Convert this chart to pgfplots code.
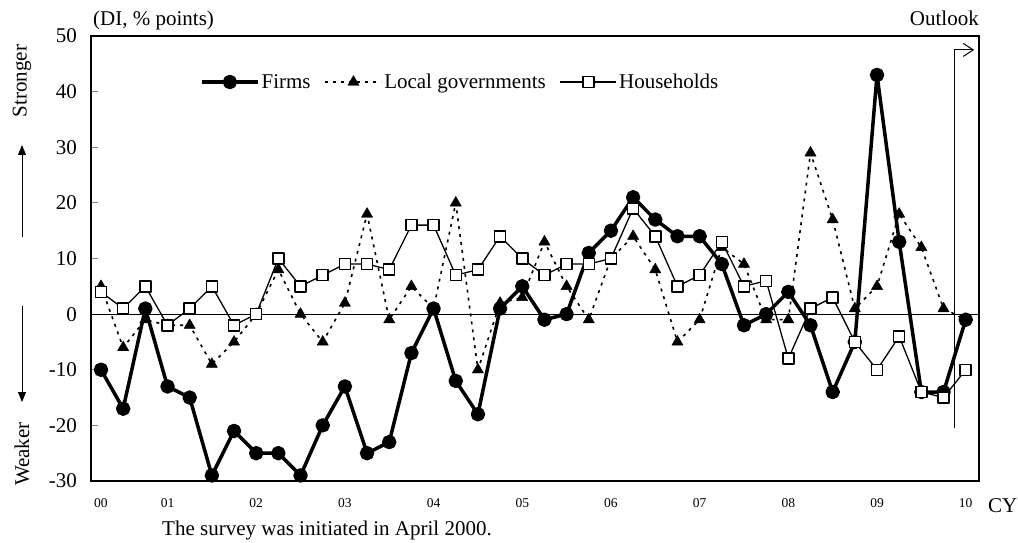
\documentclass[border=0pt]{standalone}
\usepackage{fontspec}
\setmainfont{Liberation Serif}
\usepackage{pgfplots}
\usepackage{pgfplotstable}
\pgfplotsset{compat=1.18}
\usetikzlibrary{arrows.meta}

\newcommand\bigf{\fontsize{21}{25}\selectfont}

% quarter index: 0 = 2000 Q2 (survey start), 39 = 2010 Q1
\pgfplotstableread{
i  firms local house
0  -10   5    4
1  -17  -6    1
2    1  -1    5
3  -13  -2   -2
4  -15  -2    1
5  -29  -9    5
6  -21  -5   -2
7  -25   0    0
8  -25   8   10
9  -29   0    5
10 -20  -5    7
11 -13   2    9
12 -25  18    9
13 -23  -1    8
14  -7   5   16
15   1   1   16
16 -12  20    7
17 -18 -10    8
18   1   2   14
19   5   3   10
20  -1  13    7
21   0   5    9
22  11  -1    9
23  15  10   10
24  21  14   19
25  17   8   14
26  14  -5    5
27  14  -1    7
28   9  12   13
29  -2   9    5
30   0  -1    6
31   4  -1   -8
32  -2  29    1
33 -14  17    3
34  -5   1   -5
35  43   5  -10
36  13  18   -4
37 -14  12  -14
38 -14   1  -15
39  -1  -1  -10
}\ditable

\pgfplotsset{
  firms/.style={black, line width=3.5pt, line join=round, mark=*, mark size=5.5pt, mark options={solid}},
  local/.style={black, line width=1.6pt, line join=round, dash pattern=on 3pt off 5pt, mark=triangle*, mark size=6.5pt, mark options={solid, line width=0.4pt}},
  house/.style={black, line width=1.3pt, line join=round, mark=square*, mark size=5.5pt, mark options={solid, fill=white, line width=1.5pt}},
}

\begin{document}
\begin{tikzpicture}
\useasboundingbox (0,0) rectangle (1018pt,542pt);
\begin{axis}[
  at={(91pt,61pt)}, anchor=south west,
  width=888pt, height=445pt, scale only axis,
  xmin=-0.451, xmax=39.6, ymin=-30, ymax=50,
  axis line style={line width=2pt},
  ytick={-30,-20,-10,0,10,20,30,40,50},
  yticklabels={-30,-20,-10,0,10,20,30,40,50},
  xtick={0,3,7,11,15,19,23,27,31,35,39},
  xticklabels={00,01,02,03,04,05,06,07,08,09,10},
  tick align=inside, ytick pos=left,
  major tick length=6.5pt,
  xtick style={draw=none},
  ytick style={line width=1pt},
  yticklabel style={font=\bigf, inner sep=0pt, xshift=-14pt},
  xticklabel style={font=\fontsize{13.5}{15}\selectfont, inner sep=0pt, yshift=-17pt},
  legend columns=3,
  legend image code/.code={\draw[mark repeat=2,mark phase=2] plot coordinates {(0pt,0pt) (28pt,0pt) (56pt,0pt)};},
  legend style={at={(0.1227,0.8966)}, anchor=west, draw=none, fill=none,
    inner sep=0pt, font=\bigf, nodes={inner sep=2pt},
    /tikz/every even column/.append style={column sep=12pt}},
]
% zero line
\draw[line width=0.9pt] (axis cs:-0.451,0) -- (axis cs:39.6,0);

\addlegendimage{firms}
\addlegendentry{Firms}
\addlegendimage{local}
\addlegendentry{Local governments}
\addlegendimage{house}
\addlegendentry{Households}

\addplot[local, forget plot] table[x=i, y=local] {\ditable};
\addplot[firms, forget plot] table[x=i, y=firms] {\ditable};
\addplot[house, forget plot] table[x=i, y=house] {\ditable};

% outlook marker
\draw[line width=1pt, -{Straight Barb[length=10pt,width=13pt]}]
  (axis cs:38.5,-20.5) -- (axis cs:38.5,47.5) -- (axis cs:39.38,47.5);
\end{axis}

\node[font=\bigf, anchor=base west, inner sep=0pt] at (93pt,516pt) {(DI, \% points)};
\node[font=\bigf, anchor=base east, inner sep=0pt] at (979pt,516pt) {Outlook};
\node[font=\bigf, anchor=base west, inner sep=0pt] at (988pt,30pt) {CY};
\node[font=\bigf, anchor=base west, inner sep=0pt] at (162pt,7pt) {The survey was initiated in April 2000.};

\node[font=\bigf, rotate=90, inner sep=0pt] at (22pt,461pt) {Stronger};
\node[font=\bigf, rotate=90, inner sep=0pt] at (22pt,88pt) {Weaker};
\draw[line width=1pt, -{Triangle[length=10pt,width=8pt]}] (22pt,305pt) -- (22pt,397pt);
\draw[line width=1pt, -{Triangle[length=10pt,width=8pt]}] (22pt,236pt) -- (22pt,140pt);
\end{tikzpicture}
\end{document}
